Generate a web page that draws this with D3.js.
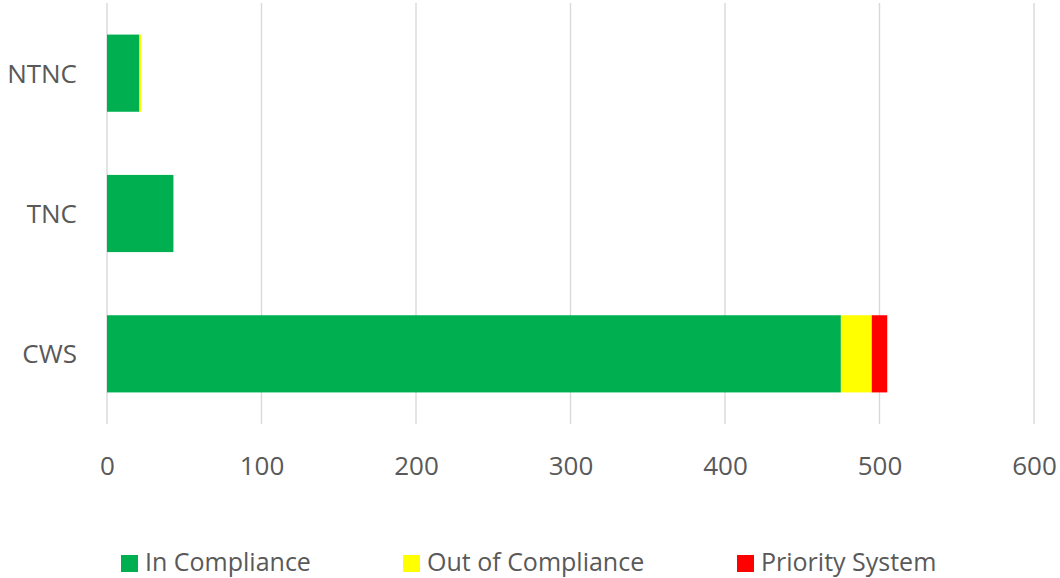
<!DOCTYPE html>
<html>
<head>
<meta charset="utf-8">
<script src="https://cdn.jsdelivr.net/npm/d3@7"></script>
<style>
  body { margin: 0; background: #fff; }
  svg text { font-family: "Open Sans", sans-serif; fill: #595959; }
</style>
</head>
<body>
<div id="chart"></div>
<script>
const categories = ['NTNC', 'TNC', 'CWS'];
const inCompliance = [21, 43, 475];
const outOfCompliance = [1, 0, 20];
const prioritySystem = [0, 0, 10];
const seriesNames = ['In Compliance', 'Out of Compliance', 'Priority System'];
const seriesColors = ['#00b050', '#ffff00', '#ff0000'];
const xTicks = [0, 100, 200, 300, 400, 500, 600];

const config = {
  width: 1060,
  height: 578,
  plotLeft: 107,
  plotRight: 1034,
  plotTop: 3,
  plotBottom: 424
};

const rows = categories.map((c, i) => ({
  cat: c,
  'In Compliance': inCompliance[i],
  'Out of Compliance': outOfCompliance[i],
  'Priority System': prioritySystem[i]
}));

const stacked = d3.stack().keys(seriesNames)(rows);

const svg = d3.select('#chart')
  .append('svg')
  .attr('width', config.width)
  .attr('height', config.height);

const scaleX = d3.scaleLinear()
  .domain([0, 600])
  .range([config.plotLeft, config.plotRight]);

const scaleY = d3.scaleBand()
  .domain(categories)
  .range([config.plotTop, config.plotBottom])
  .paddingInner(0.45)
  .paddingOuter(0.225);

// vertical gridlines
svg.append('g')
  .selectAll('line')
  .data(xTicks)
  .enter()
  .append('line')
  .attr('x1', d => scaleX(d))
  .attr('x2', d => scaleX(d))
  .attr('y1', config.plotTop)
  .attr('y2', config.plotBottom)
  .attr('stroke', '#d9d9d9')
  .attr('stroke-width', 1.4);

// bars
svg.append('g')
  .selectAll('g')
  .data(stacked)
  .enter()
  .append('g')
  .attr('fill', (d, i) => seriesColors[i])
  .selectAll('rect')
  .data(d => d)
  .enter()
  .append('rect')
  .attr('x', d => scaleX(d[0]))
  .attr('y', d => scaleY(d.data.cat))
  .attr('width', d => scaleX(d[1]) - scaleX(d[0]))
  .attr('height', scaleY.bandwidth());

// x axis labels
const xAxis = d3.axisBottom(scaleX).tickValues(xTicks).tickSize(0).tickPadding(0);
const gx = svg.append('g')
  .attr('transform', `translate(0, 475)`)
  .call(xAxis);
gx.select('.domain').remove();
gx.selectAll('text')
  .attr('dy', 0)
  .style('font-size', '26px')
  .style('font-family', '"Open Sans", sans-serif')
  .attr('fill', '#595959');

// y axis labels
const yAxis = d3.axisLeft(scaleY).tickSize(0).tickPadding(0);
const gy = svg.append('g')
  .attr('transform', `translate(77, 0)`)
  .call(yAxis);
gy.select('.domain').remove();
gy.selectAll('text')
  .attr('dy', '0.36em')
  .style('font-size', '26px')
  .style('font-family', '"Open Sans", sans-serif')
  .attr('fill', '#595959');

// legend
const legendX = [121, 403, 737];
const legend = svg.append('g')
  .selectAll('g')
  .data(seriesNames)
  .enter()
  .append('g')
  .attr('transform', (d, i) => `translate(${legendX[i]}, 555)`);

legend.append('rect')
  .attr('width', 17)
  .attr('height', 17)
  .attr('fill', (d, i) => seriesColors[i]);

legend.append('text')
  .attr('x', 24)
  .attr('y', 16)
  .style('font-size', '25px')
  .text(d => d);
</script>
</body>
</html>
